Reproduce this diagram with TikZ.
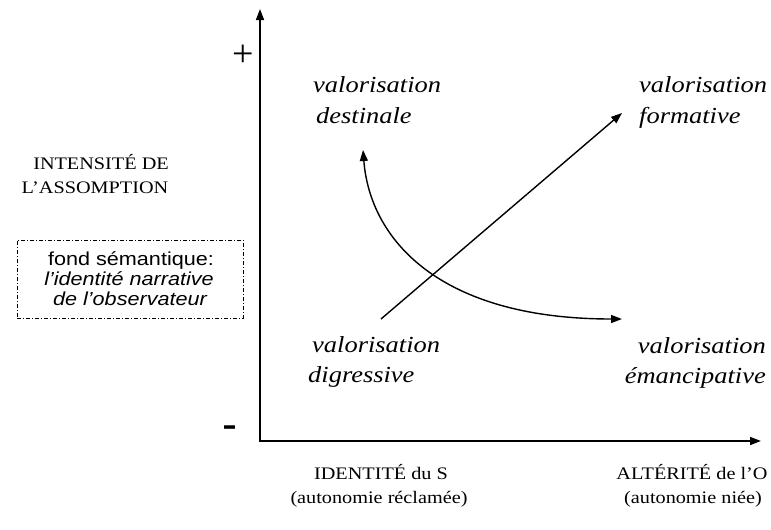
\documentclass[tikz,border=0pt]{standalone}
\usepackage{fontspec}
\setmainfont{Liberation Serif}[FakeStretch=1.15]
\newfontfamily\arialfont{Liberation Sans}[FakeStretch=1.15]
\newfontfamily\plainserif{Liberation Serif}
\newfontfamily\plainsans{Liberation Sans}
\usetikzlibrary{arrows.meta}
\tikzset{
  axisline/.style={line width=1.6pt,{Triangle[length=11pt,width=8pt]}-{Triangle[length=11pt,width=8pt]}},
  flowline/.style={line width=1.4pt,-{Triangle[length=11pt,width=8pt]}},
  flowboth/.style={line width=1.4pt,{Triangle[length=11pt,width=8pt]}-{Triangle[length=11pt,width=8pt]}},
  val/.style={font=\fontsize{23}{28}\selectfont\itshape, inner sep=0pt, anchor=base west},
  lab/.style={font=\fontsize{17.6}{21}\selectfont, inner sep=0pt, anchor=base},
  sem/.style={font=\arialfont\fontsize{18.8}{21}\selectfont, inner sep=0pt, anchor=base},
  semit/.style={font=\arialfont\itshape\fontsize{18.8}{21}\selectfont, inner sep=0pt, anchor=base},
  dashdotbox/.style={draw, line width=0.9pt, dash pattern=on 4pt off 2pt on 1pt off 2pt, inner sep=0pt},
}
\begin{document}
\begin{tikzpicture}[x=1pt,y=-1pt]
\useasboundingbox (0,0) rectangle (771,530);
% axes
\coordinate (ytop) at (260,9);
\coordinate (O) at (260,441);
\coordinate (xend) at (761,441);
\draw[axisline, line join=miter] (ytop) -- (O) -- (xend);
\node[font=\plainserif\fontsize{38}{40}\selectfont, inner sep=0pt] (plus) at (243,56) {+};
\node[font=\plainsans\fontsize{45}{48}\selectfont, inner sep=0pt, anchor=base] (minus) at (230,439.5) {-};
% valorisation labels
\node[val] (d1) at (313,92) {valorisation};
\node[val] (d2) at (316,123) {destinale};
\node[val] (f1) at (639,92) {valorisation};
\node[val] (f2) at (639,123) {formative};
\node[val] (g1) at (312,352) {valorisation};
\node[val] (g2) at (308,382) {digressive};
\node[val, anchor=base east] (e1) at (766,353) {valorisation};
\node[val, anchor=base east] (e2) at (766,383) {émancipative};
% arrows
\coordinate (s1) at (381,319);
\coordinate (s2) at (622,113);
\draw[flowline] (s1) -- (s2);
\coordinate (c1) at (363,150);
\coordinate (c2) at (622,319);
\draw[flowboth] (c1) .. controls (370,240) and (440,319) .. (c2);
% left labels
\node[lab] (i1) at (101,169) {INTENSITÉ DE};
\node[lab] (i2) at (95,193) {L’ASSOMPTION};
\node[dashdotbox, minimum width=226pt, minimum height=78pt] (box) at (130,279) {};
\node[sem] (b1) at (131,265) {fond sémantique:};
\node[semit] (b2) at (129,285) {l’identité narrative};
\node[semit] (b3) at (130,305) {de l’observateur};
% bottom labels
\node[lab] (x1) at (381,479) {IDENTITÉ du S};
\node[lab] (x2) at (379,503) {(autonomie réclamée)};
\node[lab] (a1) at (692,479) {ALTÉRITÉ de l’O};
\node[lab] (a2) at (693,503) {(autonomie niée)};
\end{tikzpicture}
\end{document}
